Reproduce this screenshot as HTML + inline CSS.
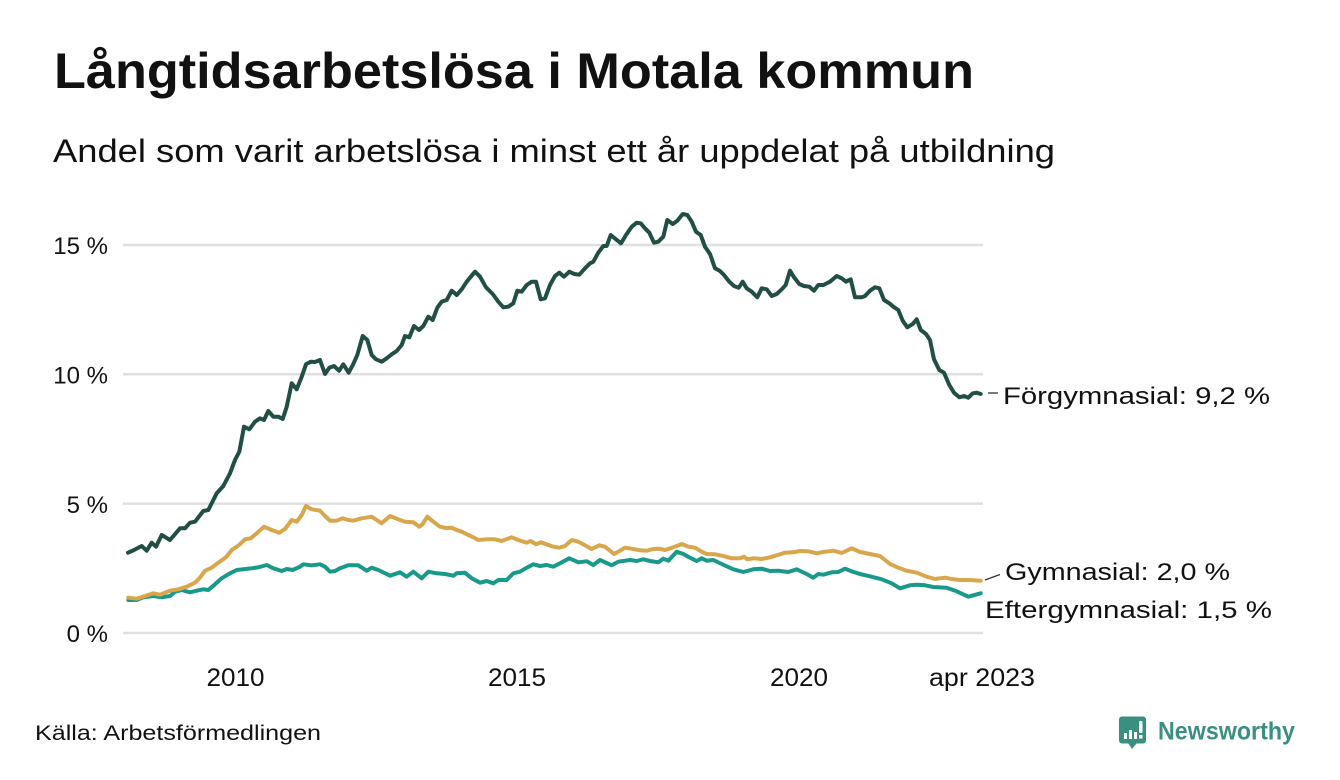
<!DOCTYPE html>
<html>
<head>
<meta charset="utf-8">
<style>
  html,body{margin:0;padding:0;background:#fff;}
  svg{display:block;}
  text{font-family:"Liberation Sans","DejaVu Sans",sans-serif;fill:#111;}
</style>
</head>
<body>
<svg width="1340" height="780" viewBox="0 0 1340 780" xmlns="http://www.w3.org/2000/svg">
  <rect width="1340" height="780" fill="#fff"/>
  <!-- Title -->
  <text x="54" y="88" font-size="50" font-weight="bold" textLength="920" lengthAdjust="spacingAndGlyphs">Långtidsarbetslösa i Motala kommun</text>
  <text x="53" y="162" font-size="32" textLength="1002" lengthAdjust="spacingAndGlyphs">Andel som varit arbetslösa i minst ett år uppdelat på utbildning</text>

  <!-- Gridlines -->
  <g stroke="#e0e0e0" stroke-width="2.5">
    <line x1="123" y1="245" x2="983" y2="245"/>
    <line x1="123" y1="374.3" x2="983" y2="374.3"/>
    <line x1="123" y1="503.6" x2="983" y2="503.6"/>
    <line x1="123" y1="633" x2="983" y2="633"/>
  </g>

  <!-- Y labels -->
  <g font-size="24" text-anchor="end">
    <text x="108" y="254">15 %</text>
    <text x="108" y="383.5">10 %</text>
    <text x="108" y="512.8">5 %</text>
    <text x="108" y="642">0 %</text>
  </g>

  <!-- X labels -->
  <g font-size="25" text-anchor="middle">
    <text x="235.5" y="686" textLength="58" lengthAdjust="spacingAndGlyphs">2010</text>
    <text x="517" y="686" textLength="58" lengthAdjust="spacingAndGlyphs">2015</text>
    <text x="799" y="686" textLength="58" lengthAdjust="spacingAndGlyphs">2020</text>
    <text x="982" y="686" textLength="106" lengthAdjust="spacingAndGlyphs">apr 2023</text>
  </g>

  <!-- Teal: Eftergymnasial -->
  <polyline fill="none" stroke="#18998a" stroke-width="4" stroke-linejoin="round" stroke-linecap="round" points="
128.3,600 136.7,600 143.3,597.3 153.3,596 161.7,597.3 170,596 175,591.7 181.7,590 190,592.3 196.7,590.7 203.3,589.3 208.3,590 215,584.3 221.7,578.3 230,573.3 236.7,570 243.3,569.3 251.7,568.3 258.3,567.3 266.7,565 273.3,568.3 281.7,571 286.7,569 292.7,570 300,566.7 303.3,564.3 311.7,565.3 320,564.3 325,566.7 330,571.7 335,571 340,568.3 348.3,565.3 358.3,565.3 366.7,570.7 371.7,567.7 378.3,570 390,575.7 400,572.3 406.7,576.7 413.3,571.7 421.7,578.3 428.3,571.7 436.7,573.3 445,574 453.3,575.7 456.7,573.3 465,572.7 471.7,578.3 480,582.7 486.7,581 493.3,583.3 498.3,580 506.7,580 513.3,573.3 520,571.7 526.7,567.7 533.3,564.3 540,566 546.7,565 553.3,566.7 560,563.3 569.3,558.3 578.3,562.3 586.7,561.3 593.3,565 600,560 611.7,565.3 618.3,561.7 630,560 636.7,561 643.3,559.3 650,561 658.3,562.3 663.3,558.7 668.3,560.7 676.7,551.7 683.3,554 690,557.7 696.7,561 701.7,558.3 706.7,560.7 713.3,560 721.7,564 733.3,569.3 743.3,572 753.3,569.3 761.7,568.7 770,571 778.3,570.7 788.3,572 796.7,569.3 806.7,574 813.3,577.7 818.3,574 823.3,574.7 831.7,572.3 838.3,572 845,568.7 851.7,571.3 860,574 870,576.3 881.7,579.3 891.7,583.3 900,588.3 910,585.3 916.7,584.7 925,585.3 933.3,587 946.7,587.7 956.7,591.3 968.3,596.7 973.3,595.3 980.7,593.3"/>

  <!-- Gold: Gymnasial -->
  <polyline fill="none" stroke="#d9a64c" stroke-width="4" stroke-linejoin="round" stroke-linecap="round" points="
128.3,597.7 136.7,598.7 145,596 153.3,593.3 160,594.7 170,590.7 178.3,589.3 186.7,586.7 195,582.7 200,577.7 205,570.7 211.7,567.7 218.3,562.7 226,557.3 231.7,550 238.3,545.7 245,539.3 250.7,538.3 256.7,533.3 264,526.7 271.7,530 279.3,532.7 285,529 291.7,520 296.7,521.7 301.7,515 306,506 311.7,509.3 320,510.7 325,516 330,520.7 336.7,520.7 342.7,518.3 348.3,520 353.3,520.7 361.7,518.3 371.7,516.7 376.7,520 381.7,523.3 390,516 396.7,518.7 405,521.7 413.3,522.3 419.3,526.7 422.7,524 427.3,516.7 433.3,521.7 440,526.7 446,528 451.7,527.7 456.7,530 461.7,531.7 468.3,535 473.3,537.3 478.3,540 486.7,539.3 495,539.3 501.7,541 511.7,537.3 518.3,540 526.7,542.7 530.7,541 536,544.3 540.7,542.3 546.7,544.3 553.3,546.7 559.3,547.7 565,546 571.7,540 578.3,541.7 585,545.3 591.7,549 599.3,545.3 605,546.7 610,550.7 614,554 618.3,551.7 625,547.7 631.7,548.7 640,550.3 646.7,550.7 653.3,549 659.3,548.7 665,550 673.3,547.3 681.7,544 688.3,546.7 695,547.7 701.7,551.7 706.7,554 715,554.3 723.3,556 731.7,558.3 740,558.3 744,556.7 747.3,559.3 753.3,558.3 761.7,559 770,557.3 776.7,555.3 785,552.7 793.3,552.3 800,551 808.3,551.3 816.7,553.3 823.3,552 833.3,550.7 841.7,553 851.7,548.3 860,552 870,554 880,556 885,560 890,564 898.3,567.7 906.7,570.7 916.7,572.7 926.7,576.7 935,579 945,577.7 953.3,579.3 960,580 970,580 980.7,580.7"/>

  <!-- Dark: Förgymnasial -->
  <polyline fill="none" stroke="#214f45" stroke-width="4" stroke-linejoin="round" stroke-linecap="round" points="
128,552.7 134,550 141.7,546 146.7,550.7 151.7,542.7 156,546.7 161.7,535 170,540 180,528.3 185,528.3 190,522.7 195,521.7 203.3,511 208.3,510 216.7,493.3 223.3,486 230,473.3 235,460 239.3,451.7 244,426.7 249.3,429.3 255,421.7 260,418.3 264,420 268.3,411 273.3,416.7 278.3,416.7 282.7,419 286.7,406.7 291.7,383.3 296.7,389.3 301.7,376.7 306,364.3 310.7,361.7 315,362 320,360 325,374 329.3,367.7 334,366 339,370.7 343.3,364.3 348.7,372.7 353.3,364 357.3,355 362.7,336 367.3,340 371.7,355 376,359.3 381.7,361.7 386.7,358.3 391.7,354.3 396.7,351 401.7,345 405,336 409.3,337.3 414,326 419,330 423.3,326 428.3,316.7 432.7,320 437.3,307.7 441.7,301.7 446.7,300 451.7,290.7 456.7,295 461.7,289.3 466.7,281.7 475,271.7 480,276.7 486,287.3 492.7,294 498.3,301.7 503.3,307.3 508.3,306.7 513.3,303.3 517.3,290.7 521.7,291.7 526.7,285 531.7,281.7 536,281.7 540.7,299.3 545,298.3 550,285 555,276 559.3,272.7 564,276.7 569.3,271.7 574.3,274 579.3,274.7 585,268.3 590,263.3 593.3,261.7 598.3,252.7 603.3,246 606.7,246 610.7,235 616,239.3 621,243.3 626,235 631.7,226.7 636.7,222.7 640.7,223.3 645,228.3 649.3,232.7 654,242.7 658.3,241.7 663.3,236.7 667.3,220 672.7,224 677.3,220.7 682.7,214 687.3,215 691.7,221.7 696,231.7 700.7,235 705,246.7 710,254 715,268.3 720,271 724,275 729.3,281.7 734,286 738.7,287.7 742.7,281.7 746.7,288.3 751.7,291.7 757.3,297.3 761.7,288.3 766.7,289.3 771.7,296 776.7,294 781.7,289.3 785.7,285 790,270.7 794,277.3 799.3,284 804,286 809.3,286.7 814,290.7 818.3,285 823.3,285 830,281.7 836.7,276 841.7,278.3 846,281.7 850.7,279.3 855,297.3 861.7,297.3 865,296 870,290.7 875,287.3 879.3,288.3 884,300 889.3,303.3 893.3,306.7 898.3,310 902.7,320.7 907.3,327.3 912.7,324 916.7,319.3 920.7,330 926,334 930,340 934,359.3 939.3,370 944,372.7 949.3,385 954,392.7 959.3,397.3 964,396 968.3,397.7 972.7,393.3 976.7,392.7 980.7,394"/>

  <!-- Label connectors -->
  <g stroke="#333" stroke-width="1.3">
    <line x1="988" y1="393" x2="998" y2="393"/>
    <line x1="985" y1="580" x2="1000" y2="574.5"/>
  </g>

  <!-- Series labels -->
  <g font-size="24">
    <text x="1003" y="404" textLength="267" lengthAdjust="spacingAndGlyphs">Förgymnasial: 9,2 %</text>
    <text x="1005" y="580" textLength="225" lengthAdjust="spacingAndGlyphs">Gymnasial: 2,0 %</text>
    <text x="985" y="618" textLength="287" lengthAdjust="spacingAndGlyphs">Eftergymnasial: 1,5 %</text>
  </g>

  <!-- Source -->
  <text x="35" y="740" font-size="21" textLength="286" lengthAdjust="spacingAndGlyphs">Källa: Arbetsförmedlingen</text>

  <!-- Newsworthy logo -->
  <g>
    <rect x="1119" y="716.5" width="27" height="27" rx="3" fill="#3a8f81"/>
    <polygon points="1128,743 1137,743 1132,749" fill="#3a8f81"/>
    <rect x="1124" y="733" width="3" height="6" fill="#fff"/>
    <rect x="1129" y="730" width="3" height="9" fill="#fff"/>
    <rect x="1134" y="732" width="3" height="7" fill="#fff"/>
    <rect x="1139" y="721" width="3.5" height="12" rx="1" fill="#fff"/>
    <rect x="1139" y="735" width="3.5" height="3.5" fill="#fff"/>
  </g>
  <text x="1158" y="739.5" font-size="25" font-weight="bold" fill="#3a8f81" style="fill:#3a8f81" textLength="137" lengthAdjust="spacingAndGlyphs">Newsworthy</text>
</svg>
</body>
</html>
